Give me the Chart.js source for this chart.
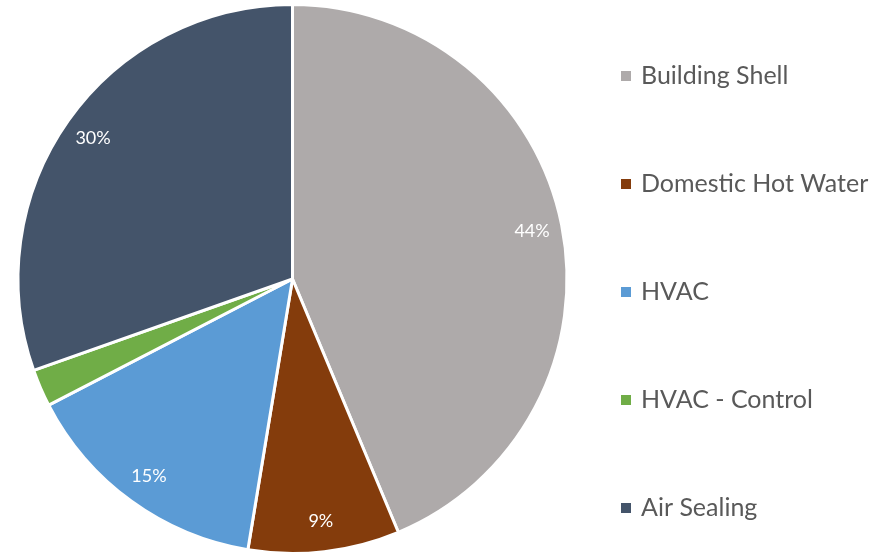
<!DOCTYPE html>
<html>
<head>
<meta charset="utf-8">
<script src="https://cdn.jsdelivr.net/npm/chart.js@4"></script>
<style>
  html, body { margin: 0; padding: 0; background: #fff; }
  #wrap { width: 886px; height: 555px; }
</style>
</head>
<body>
<div id="wrap"><canvas id="canvas"></canvas></div>
<script>
// data
const categories = ["Building Shell", "Domestic Hot Water", "HVAC", "HVAC - Control", "Air Sealing"];
const shares = [43.7, 8.9, 14.8, 2.2, 30.4];
const colors = ["#AEAAAA", "#843C0C", "#5B9BD5", "#70AD47", "#44546A"];

const FONT = "Lato, 'Open Sans', sans-serif";

// percentage labels inside the slices
const sliceLabels = {
  id: "sliceLabels",
  afterDatasetsDraw(chart) {
    const ctx = chart.ctx;
    const meta = chart.getDatasetMeta(0);
    const total = shares.reduce((a, b) => a + b, 0);
    ctx.save();
    ctx.fillStyle = "#ffffff";
    ctx.font = "18px " + FONT;
    ctx.textAlign = "center";
    ctx.textBaseline = "middle";
    meta.data.forEach((arc, i) => {
      const pct = Math.round(shares[i] / total * 100);
      if (pct < 5) return;
      const p = arc.getProps(["x", "y", "startAngle", "endAngle", "outerRadius"], true);
      const mid = (p.startAngle + p.endAngle) / 2;
      const r = p.outerRadius * 0.89;
      ctx.fillText(pct + "%", p.x + Math.cos(mid) * r, p.y + Math.sin(mid) * r);
    });
    ctx.restore();
  }
};

// legend on the right, evenly spaced like the original
const sideLegend = {
  id: "sideLegend",
  afterDraw(chart) {
    const ctx = chart.ctx;
    ctx.save();
    ctx.font = "25px " + FONT;
    ctx.textBaseline = "middle";
    categories.forEach((name, i) => {
      const y = 76 + i * 108;
      ctx.fillStyle = colors[i];
      ctx.fillRect(621, y - 5, 10, 10);
      ctx.fillStyle = "#595959";
      ctx.fillText(name, 641, y);
    });
    ctx.restore();
  }
};

Chart1 = new Chart(document.getElementById("canvas"), {
  type: "pie",
  data: {
    labels: categories,
    datasets: [{
      data: shares,
      backgroundColor: colors,
      borderColor: "#ffffff",
      borderWidth: 3
    }]
  },
  options: {
    responsive: true,
    maintainAspectRatio: false,
    animation: false,
    layout: { padding: { left: 16, right: 317, top: 3, bottom: 0 } },
    plugins: {
      legend: { display: false },
      tooltip: { enabled: false }
    }
  },
  plugins: [sliceLabels, sideLegend]
});
</script>
</body>
</html>
